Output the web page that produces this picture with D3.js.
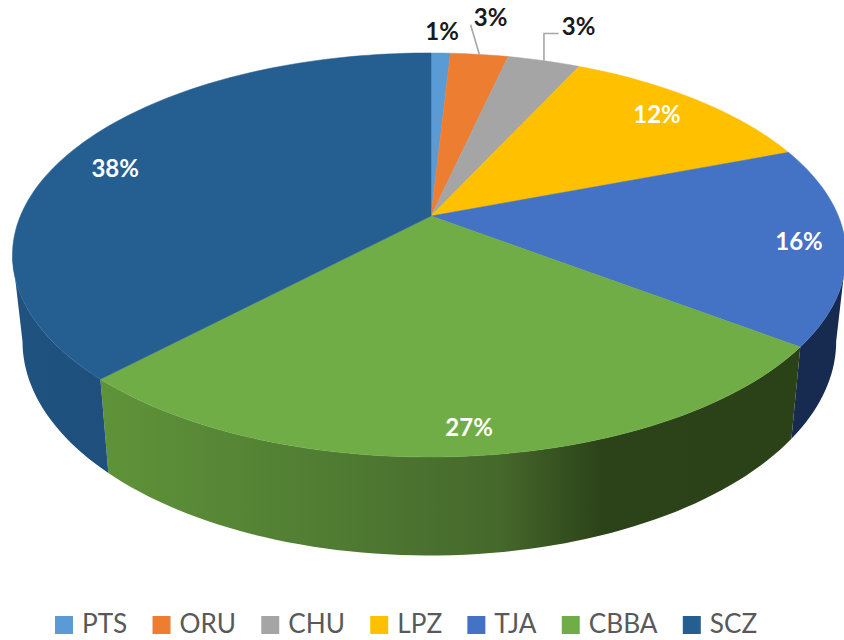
<!DOCTYPE html>
<html>
<head>
<meta charset="utf-8">
<script src="https://cdn.jsdelivr.net/npm/d3@7/dist/d3.min.js"></script>
<style>html,body{margin:0;padding:0;background:#fff}svg{display:block}</style>
</head>
<body>
<div id="chart"></div>
<script>
const categories = ["PTS","ORU","CHU","LPZ","TJA","CBBA","SCZ"];
const values = [0.9,2.7,3.4,12.3,15.9,27.0,37.8];
const colors = ["#5b9bd5","#ed7d31","#a5a5a5","#ffc000","#4472c4","#70ad47","#255e91"];
const sideColors = [
  ["#3f75a6","#3f75a6"],["#b55e24","#b55e24"],["#7c7c7c","#7c7c7c"],["#bf9000","#bf9000"],
  ["#172a50","#172a50"],
  ["#5f9339","#4f7a32","#45682b","#2c4319","#2b4218"],
  ["#20527f","#1e4f7d"]
];
const labelRadius = [1.17,1.29,1.29,0.85,0.89,0.90,0.85];
const labelTurn = [0,0,0.02,-0.015,0,-0.004,-0.07];
const labelDark = [true,true,true,false,false,false,false];

const W=844,H=640;
const cx=431,cy=216,bx=409,ay=194.5,kv=-0.193,ku=0.004;
const wallDy=84,wallSy=1.06,wallSx=0.976;

const svg=d3.select("#chart").append("svg").attr("width",W).attr("height",H);
const defs=svg.append("defs");

function project(angle,r){
  const u=Math.sin(angle)*r, v=-Math.cos(angle)*r, d=1+kv*v+ku*u;
  return [cx+bx*u/d, cy+ay*v/d];
}
function lower(p){
  return [cx+(p[0]-cx)*wallSx, cy+wallDy+(p[1]-cy)*wallSy];
}
const line=d3.line();
const arcs=d3.pie().sort(null).value(d=>d)(values);
const step=Math.PI/120;
function sample(a0,a1){
  const n=Math.max(1,Math.ceil((a1-a0)/step));
  return d3.range(n+1).map(i=>a0+(a1-a0)*i/n);
}

// gradients for the side walls
const grad=[ [0,1],[0,1],[0,1],[0,1],[0,1],[103,350,500,600,800],[20,110] ];
sideColors.forEach((cs,i)=>{
  const xs=grad[i];
  const lo=i<5?0:xs[0], hi=i<5?W:xs[xs.length-1];
  const g=defs.append("linearGradient").attr("id","side"+i)
    .attr("gradientUnits","userSpaceOnUse").attr("x1",lo).attr("x2",hi).attr("y1",0).attr("y2",0);
  cs.forEach((c,j)=>{
    const t=i<5?j/(cs.length-1):(xs[j]-lo)/(hi-lo);
    g.append("stop").attr("offset",t).attr("stop-color",c);
  });
});

// side walls: only the front part of the rim, between the two tangent points, is visible
const tangent=Math.asin(-kv);
const frontStart=Math.PI/2+tangent, frontEnd=3*Math.PI/2-tangent;
const walls=svg.append("g");
arcs.forEach((a,i)=>{
  const a0=Math.max(a.startAngle,frontStart), a1=Math.min(a.endAngle,frontEnd);
  if(a1<=a0) return;
  const top=sample(a0,a1).map(t=>project(t,1));
  walls.append("path")
    .attr("d",line([...top,...top.map(lower).reverse()])+"Z")
    .attr("fill",`url(#side${i})`);
});

// top faces
svg.append("g").selectAll("path").data(arcs).join("path")
  .attr("d",a=>line([[cx,cy],...sample(a.startAngle,a.endAngle).map(t=>project(t,1))])+"Z")
  .attr("fill",(a,i)=>colors[i])
  .attr("stroke",(a,i)=>colors[i]).attr("stroke-width",0.5);

const font="Lato, 'Open Sans', sans-serif";
// leader lines
const labelPos=arcs.map((a,i)=>project((a.startAngle+a.endAngle)/2+labelTurn[i],labelRadius[i]));
const leaders=svg.append("g").attr("fill","none").attr("stroke","#a6a6a6").attr("stroke-width",1.6);
[1,2].forEach(i=>{
  const a=arcs[i], rim=project((a.startAngle+a.endAngle)/2,1), lp=labelPos[i];
  const end=[lp[0]-20,lp[1]+8];
  const pts=i===1?[rim,end]:[rim,[rim[0],end[1]],end];
  leaders.append("path").attr("d",line(pts));
});

// percent labels
svg.append("g").selectAll("text").data(arcs).join("text")
  .attr("x",(a,i)=>labelPos[i][0]).attr("y",(a,i)=>labelPos[i][1])
  .attr("text-anchor","middle").attr("dominant-baseline","central")
  .attr("font-family",font).attr("font-weight",700).attr("font-size",24)
  .attr("fill",(a,i)=>labelDark[i]?"#1a1a1a":"#ffffff")
  .text(a=>Math.round(a.data)+"%");

// legend
const legend=svg.append("g");
let lx=55;
categories.forEach((c,i)=>{
  legend.append("rect").attr("x",lx).attr("y",616).attr("width",18).attr("height",18).attr("fill",colors[i]);
  const t=legend.append("text").attr("x",lx+27).attr("y",633)
    .attr("font-family",font).attr("font-size",26.2).attr("fill","#595959").text(c);
  lx+=27+t.node().getComputedTextLength()+25.2;
});
</script>
</body>
</html>
